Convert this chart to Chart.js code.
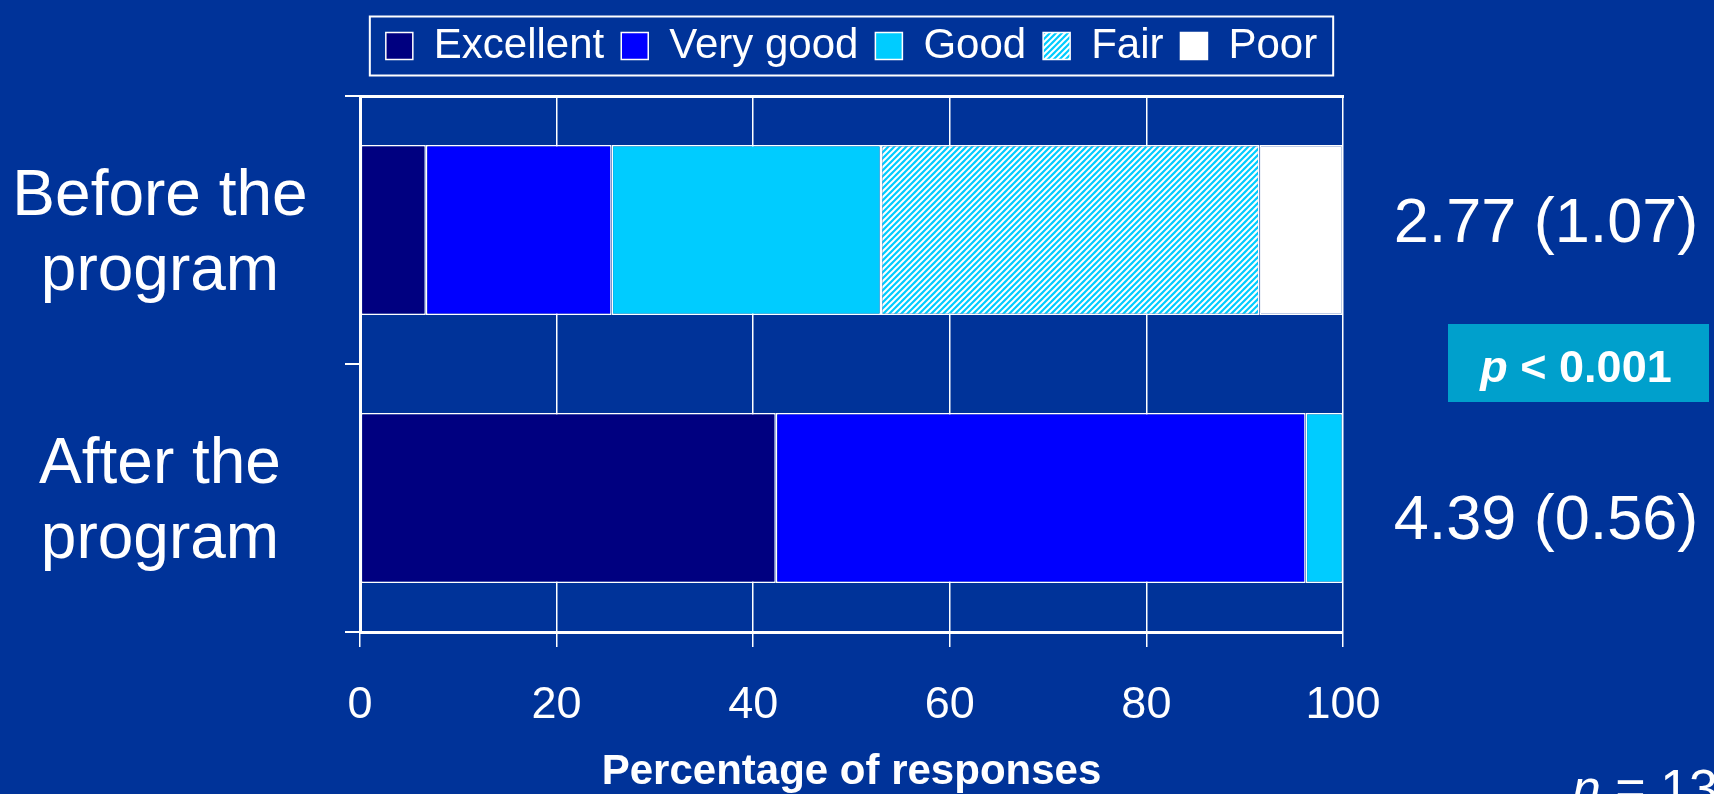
<!DOCTYPE html>
<html lang="en">
<head>
<meta charset="UTF-8">
<title>Self-rated health before and after the program</title>
<script src="https://cdn.jsdelivr.net/npm/chart.js"></script>
<style>
    html, body {
        margin: 0;
        padding: 0;
        background-color: #003399;
        overflow: hidden;
    }
    canvas {
        display: block;
    }
</style>
</head>
<body>
<canvas id="ratingChart" width="1714" height="794"></canvas>
<script>
    // data
    const categories = [['Before the', 'program'], ['After the', 'program']];
    const ratingLabels = ['Excellent', 'Very good', 'Good', 'Fair', 'Poor'];
    const excellent = [6.7, 42.3];
    const veryGood = [18.9, 53.9];
    const good = [27.4, 3.8];
    const fair = [38.5, 0];
    const poor = [8.5, 0];
    const meanScores = ['2.77 (1.07)', '4.39 (0.56)'];
    const xTicks = [0, 20, 40, 60, 80, 100];
    const pValue = '< 0.001';
    const sampleSize = '= 13';

    const FONT = '"Liberation Sans", Arial, sans-serif';
    Chart.defaults.font.family = FONT;
    Chart.defaults.color = '#ffffff';

    // cyan / white diagonal hatch for "Fair"
    function makeHatch() {
        const size = 6;
        const c = document.createElement('canvas');
        c.width = size;
        c.height = size;
        const g = c.getContext('2d');
        g.fillStyle = '#00ccff';
        g.fillRect(0, 0, size, size);
        g.strokeStyle = '#ffffff';
        g.lineWidth = 2;
        g.beginPath();
        g.moveTo(0, size); g.lineTo(size, 0);
        g.moveTo(-1, 1); g.lineTo(1, -1);
        g.moveTo(size - 1, size + 1); g.lineTo(size + 1, size - 1);
        g.stroke();
        return g.createPattern(c, 'repeat');
    }

    const ctx = document.getElementById('ratingChart').getContext('2d');
    const fills = ['#000080', '#0000ff', '#00ccff', makeHatch(), '#ffffff'];
    const series = [excellent, veryGood, good, fair, poor];

    const datasets = series.map((values, i) => ({
        label: ratingLabels[i],
        data: values,
        backgroundColor: fills[i],
        borderColor: '#ffffff',
        borderWidth: 1.5,
        borderSkipped: false,
        barPercentage: 0.634,
        categoryPercentage: 1.0
    }));

    // box around the legend
    const legendFrame = {
        id: 'legendFrame',
        afterDraw(chart) {
            const boxes = chart.legend.legendHitBoxes;
            if (!boxes || !boxes.length) return;
            const first = boxes[0];
            const last = boxes[boxes.length - 1];
            const c = chart.ctx;
            const mid = first.top + first.height / 2;
            c.save();
            c.strokeStyle = '#ffffff';
            c.lineWidth = 2;
            c.strokeRect(first.left - 16, mid - 29.5, last.left + last.width - first.left + 32, 59);
            c.restore();
        }
    };

    // category names, mean (SD) values, p value and n
    const sideText = {
        id: 'sideText',
        afterDraw(chart) {
            const c = chart.ctx;
            const y = chart.scales.y;
            c.save();
            c.fillStyle = '#ffffff';
            c.textBaseline = 'alphabetic';
            c.textAlign = 'center';
            c.font = '64px ' + FONT;
            categories.forEach((lines, i) => {
                const yc = y.getPixelForValue(i);
                c.fillText(lines[0], 160, yc - 15);
                c.fillText(lines[1], 160, yc + 60);
            });

            c.font = '63px ' + FONT;
            c.fillText(meanScores[0], 1546, 242);
            c.fillText(meanScores[1], 1546, 539);

            // p value box
            c.fillStyle = '#00a0cc';
            c.fillRect(1448, 324, 261, 78);
            c.fillStyle = '#ffffff';
            c.textAlign = 'left';
            const pFont = 'italic bold 45px ' + FONT;
            const restFont = 'bold 45px ' + FONT;
            c.font = pFont;
            const wp = c.measureText('p').width;
            c.font = restFont;
            const wr = c.measureText(' ' + pValue).width;
            let x0 = 1576 - (wp + wr) / 2;
            c.font = pFont;
            c.fillText('p', x0, 382);
            c.font = restFont;
            c.fillText(' ' + pValue, x0 + wp, 382);

            // sample size, cut off at the corner like the slide
            c.font = 'italic 52px ' + FONT;
            c.fillText('n', 1572, 806);
            const wn = c.measureText('n').width;
            c.font = '52px ' + FONT;
            c.fillText(' ' + sampleSize, 1572 + wn, 806);
            c.restore();
        }
    };

    new Chart(ctx, {
        type: 'bar',
        data: {
            labels: categories,
            datasets: datasets
        },
        options: {
            indexAxis: 'y',
            responsive: false,
            animation: false,
            devicePixelRatio: 1,
            layout: {
                padding: { left: 345, right: 371, top: 8, bottom: 0 }
            },
            scales: {
                x: {
                    stacked: true,
                    min: 0,
                    max: 100,
                    afterBuildTicks: (axis) => {
                        axis.ticks = xTicks.map(v => ({ value: v }));
                    },
                    grid: {
                        color: '#ffffff',
                        lineWidth: 1.5,
                        tickLength: 15
                    },
                    border: { color: '#ffffff', width: 3 },
                    ticks: {
                        color: '#ffffff',
                        font: { size: 45 },
                        padding: 32
                    },
                    title: {
                        display: true,
                        text: 'Percentage of responses',
                        color: '#ffffff',
                        font: { size: 42, weight: 'bold', lineHeight: 1 },
                        // tick padding is counted twice by the axis, pull the title back up
                        padding: { top: -14, bottom: 1 }
                    }
                },
                x2: {
                    position: 'top',
                    type: 'linear',
                    display: true,
                    min: 0,
                    max: 100,
                    grid: { display: false, drawTicks: false },
                    ticks: { display: false },
                    border: { display: true, color: '#ffffff', width: 3 },
                    title: {
                        display: true,
                        text: '',
                        padding: 0,
                        font: { size: 19, lineHeight: 1 }
                    }
                },
                y: {
                    stacked: true,
                    grid: {
                        offset: true,
                        drawOnChartArea: false,
                        color: '#ffffff',
                        lineWidth: 2,
                        tickLength: 15
                    },
                    border: { color: '#ffffff', width: 3 },
                    ticks: { display: false }
                }
            },
            plugins: {
                legend: {
                    position: 'top',
                    fullSize: false,
                    labels: {
                        color: '#ffffff',
                        font: { size: 42 },
                        boxWidth: 27,
                        boxHeight: 27,
                        padding: 17
                    }
                },
                tooltip: { enabled: false }
            }
        },
        plugins: [legendFrame, sideText]
    });
</script>
</body>
</html>
